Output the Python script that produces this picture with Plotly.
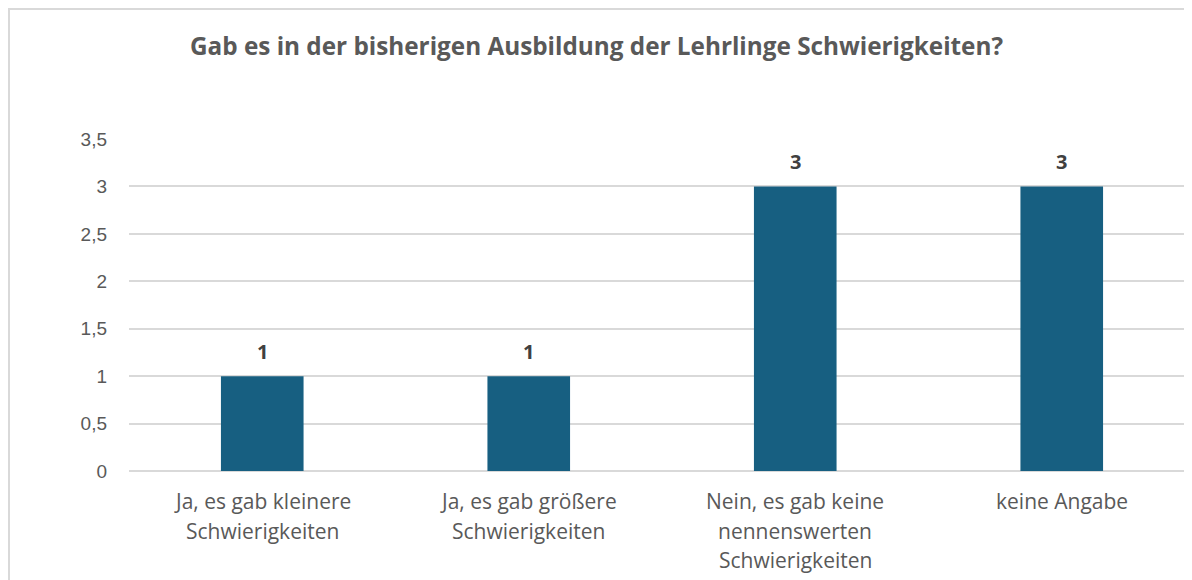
import plotly.graph_objects as go

categories = [
    "Ja, es gab kleinere<br>Schwierigkeiten",
    "Ja, es gab größere<br>Schwierigkeiten",
    "Nein, es gab keine<br>nennenswerten<br>Schwierigkeiten",
    "keine Angabe",
]
values = [1, 1, 3, 3]
y_ticks = [0, 0.5, 1, 1.5, 2, 2.5, 3, 3.5]
title = "Gab es in der bisherigen Ausbildung der Lehrlinge Schwierigkeiten?"

BAR = "#175F81"
GRID = "#D9D9D9"
TXT = "#595959"
FONT = "Open Sans"

OFF = 8  # default page body margin
W, H = 1192 - OFF, 580 - OFF
L, R, T = 129 - OFF, 0, 139 - OFF
B = OFF + H - 471
PW, PH = W - L - R, H - T - B
SPACING = 266.5

fig = go.Figure()
fig.add_trace(go.Bar(
    x=list(range(len(categories))), y=values,
    marker=dict(color=BAR, line=dict(width=0)),
    width=0.31, hoverinfo="skip",
))

annotations = []
# data labels
for i, v in enumerate(values):
    annotations.append(dict(
        x=i, y=v, xref="x", yref="y", text=f"<b>{v}</b>", showarrow=False,
        yanchor="bottom", yshift=9,
        font=dict(family=FONT, size=20, color="#404040"),
    ))
# category labels, one annotation per line for Excel-like spacing
for i, lab in enumerate(categories):
    for j, line in enumerate(lab.split("<br>")):
        annotations.append(dict(
            x=i, y=0, xref="x", yref="y", text=line, showarrow=False,
            yanchor="middle", yshift=-30 - 29.5 * j,
            font=dict(family=FONT, size=21, color=TXT),
        ))

fig.update_layout(
    width=W, height=H,
    margin=dict(l=L, r=R, t=T, b=B, pad=0),
    paper_bgcolor="white", plot_bgcolor="white",
    separators=",.",
    showlegend=False,
    title=dict(
        text=f"<b>{title}</b>", x=(596.5 - OFF) / W, xref="container", xanchor="center",
        y=1 - (46 - OFF) / H, yref="container", yanchor="middle",
        font=dict(family=FONT, size=24.3, color=TXT),
    ),
    xaxis=dict(
        range=[-0.5, -0.5 + PW / SPACING],
        showticklabels=False, showgrid=False, zeroline=False,
        showline=False, ticks="",
    ),
    yaxis=dict(
        range=[0, 3.5], tickvals=y_ticks,
        showgrid=True, gridcolor=GRID, gridwidth=1.5,
        zeroline=True, zerolinecolor=GRID, zerolinewidth=1.5,
        showline=False, ticks="", ticklabelstandoff=21,
        tickfont=dict(family="Liberation Sans", size=19, color=TXT),
    ),
    annotations=annotations,
    shapes=[dict(
        type="rect", xref="paper", yref="paper",
        x0=(1 - L) / PW, x1=(W + 20 - L) / PW,
        y0=-(B + 20) / PH, y1=(H - 1 - B) / PH,
        line=dict(color=GRID, width=2), fillcolor="rgba(0,0,0,0)", layer="below",
    )],
)

fig.write_html("out.html")
